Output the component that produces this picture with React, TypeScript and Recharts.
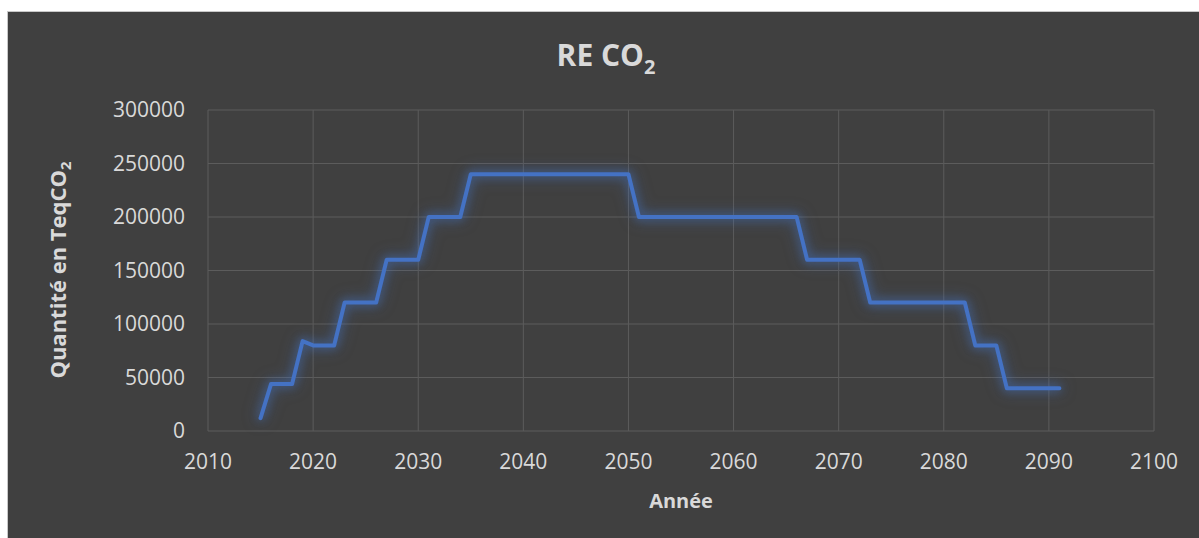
import { LineChart, Line, XAxis, YAxis, CartesianGrid } from "recharts"

// années (axe X) et quantités en TeqCO2
const YEARS = [
  2015, 2016, 2017, 2018, 2019, 2020, 2021, 2022, 2023, 2024, 2025, 2026, 2027, 2028, 2029, 2030,
  2031, 2032, 2033, 2034, 2035, 2036, 2037, 2038, 2039, 2040, 2041, 2042, 2043, 2044, 2045, 2046,
  2047, 2048, 2049, 2050, 2051, 2052, 2053, 2054, 2055, 2056, 2057, 2058, 2059, 2060, 2061, 2062,
  2063, 2064, 2065, 2066, 2067, 2068, 2069, 2070, 2071, 2072, 2073, 2074, 2075, 2076, 2077, 2078,
  2079, 2080, 2081, 2082, 2083, 2084, 2085, 2086, 2087, 2088, 2089, 2090, 2091,
]

const RE_CO2 = [
  12000, 44000, 44000, 44000, 84000, 80000, 80000, 80000, 120000, 120000, 120000, 120000,
  160000, 160000, 160000, 160000, 200000, 200000, 200000, 200000,
  240000, 240000, 240000, 240000, 240000, 240000, 240000, 240000,
  240000, 240000, 240000, 240000, 240000, 240000, 240000, 240000,
  200000, 200000, 200000, 200000, 200000, 200000, 200000, 200000,
  200000, 200000, 200000, 200000, 200000, 200000, 200000, 200000,
  160000, 160000, 160000, 160000, 160000, 160000,
  120000, 120000, 120000, 120000, 120000, 120000, 120000, 120000, 120000, 120000,
  80000, 80000, 80000, 40000, 40000, 40000, 40000, 40000, 40000,
]

const X_TICKS = [2010, 2020, 2030, 2040, 2050, 2060, 2070, 2080, 2090, 2100]
const Y_TICKS = [0, 50000, 100000, 150000, 200000, 250000, 300000]

const data = YEARS.map((year, i) => ({ year, value: RE_CO2[i] }))

const FONT = '"Open Sans", "Noto Sans", sans-serif'
const TEXT = "#d9d9d9"
const W = 1199
const H = 538

export default function App() {
  const tick = { fill: TEXT, fontSize: 21, fontFamily: FONT }

  return (
    <div style={{ position: "fixed", left: 0, top: 0, width: W, height: H, background: "#fff", overflow: "hidden" }}>
      {/* halo bleu façon "lumière" Excel */}
      <style>{`.recharts-line-curve { filter: drop-shadow(0 0 4px rgba(68,114,196,0.55)) drop-shadow(0 0 7px rgba(68,114,196,0.55)); }`}</style>
      <div
        style={{
          position: "absolute",
          left: 7,
          top: 11,
          width: W - 7,
          height: H - 11,
          background: "#404040",
          borderLeft: "1px solid #c8c8c8",
          borderTop: "1px solid #c8c8c8",
          boxSizing: "border-box",
        }}
      />
      <div style={{ position: "absolute", left: 0, top: 0 }}>
        <LineChart width={W} height={H} data={data} margin={{ top: 110, right: 45, bottom: 0, left: 0 }}>
          <CartesianGrid stroke="#5c5c5c" strokeWidth={1} />
          <XAxis
            dataKey="year"
            type="number"
            domain={[2010, 2100]}
            ticks={X_TICKS}
            height={107}
            axisLine={false}
            tickLine={false}
            tickSize={0}
            tickMargin={23}
            tick={tick}
            interval={0}
          />
          <YAxis
            type="number"
            domain={[0, 300000]}
            ticks={Y_TICKS}
            width={208}
            axisLine={false}
            tickLine={false}
            tickSize={0}
            tickMargin={23}
            tick={tick}
            interval={0}
          />
          <Line
            type="linear"
            dataKey="value"
            stroke="#4472c4"
            strokeWidth={4}
            strokeLinecap="round"
            strokeLinejoin="round"
            dot={false}
            activeDot={false}
            isAnimationActive={false}
          />
        </LineChart>
      </div>
      <svg width={W} height={H} style={{ position: "absolute", left: 0, top: 0, pointerEvents: "none" }}>
        <text x={606} y={66} textAnchor="middle" fill={TEXT} fontFamily={FONT} fontWeight={700} fontSize={30}>
          RE CO<tspan fontSize={20} dy={8}>2</tspan>
        </text>
        <text
          x={66}
          y={270}
          transform="rotate(-90 66 270)"
          textAnchor="middle"
          fill={TEXT}
          fontFamily={FONT}
          fontWeight={700}
          fontSize={22}
        >
          Quantité en TeqCO<tspan fontSize={15} dy={5}>2</tspan>
        </text>
        <text x={681} y={508} textAnchor="middle" fill={TEXT} fontFamily={FONT} fontWeight={700} fontSize={20}>
          Année
        </text>
      </svg>
    </div>
  )
}
